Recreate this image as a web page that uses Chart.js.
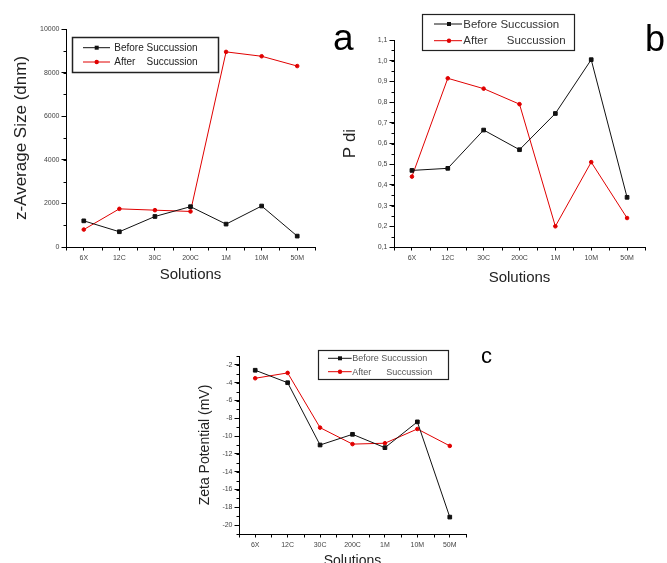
<!DOCTYPE html>
<html>
<head>
<meta charset="utf-8">
<script src="https://cdn.jsdelivr.net/npm/chart.js@4/dist/chart.umd.min.js"></script>
<style>
body{margin:0;background:#fff;width:667px;height:563px;overflow:hidden;position:relative}
.box{position:absolute}
.tag{position:absolute;font-family:"Liberation Sans",Arial,sans-serif;color:#000;line-height:1}
</style>
</head>
<body>
<div class="box" style="left:0;top:0;width:340px;height:290px"><canvas id="ca"></canvas></div>
<div class="box" style="left:340px;top:0;width:327px;height:290px"><canvas id="cb"></canvas></div>
<div class="box" style="left:170px;top:330px;width:330px;height:240px"><canvas id="cc"></canvas></div>
<div class="tag" style="left:333px;top:19px;font-size:37px">a</div>
<div class="tag" style="left:645px;top:21px;font-size:36px">b</div>
<div class="tag" style="left:481px;top:345px;font-size:22px">c</div>
<script>
// data
const solutions = ['6X','12C','30C','200C','1M','10M','50M'];
const sizeBefore = [1200, 700, 1400, 1850, 1050, 1880, 500];
const sizeAfter  = [800, 1750, 1690, 1630, 8950, 8750, 8300];
const pdiBefore  = [0.47, 0.48, 0.665, 0.57, 0.745, 1.005, 0.34];
const pdiAfter   = [0.44, 0.915, 0.865, 0.79, 0.20, 0.51, 0.24];
const zetaBefore = [-2.6, -4.0, -11.0, -9.8, -11.3, -8.4, -19.1];
const zetaAfter  = [-3.5, -2.9, -9.05, -10.9, -10.8, -9.2, -11.1];
const sizeTicks = [0, 2000, 4000, 6000, 8000, 10000];
const pdiTicks  = [0.1, 0.2, 0.3, 0.4, 0.5, 0.6, 0.7, 0.8, 0.9, 1.0, 1.1];
const zetaTicks = [-2, -4, -6, -8, -10, -12, -14, -16, -18, -20];
const namesA = ['Before Succussion', 'After    Succussion'];
const namesB = ['Before Succussion', 'After      Succussion'];
const namesC = ['Before Succussion', 'After      Succussion'];

const FONT = '"Liberation Sans", Arial, sans-serif';
const BLACK = '#111', RED = '#e00000';

// minor ticks + boxed legend, drawn by hand like the Origin figure
const extras = {
  id: 'extras',
  afterDraw(chart, args, o) {
    const {ctx, chartArea: a, scales: {x, y}} = chart;
    ctx.save();
    ctx.strokeStyle = '#000'; ctx.lineWidth = 1;
    ctx.beginPath();
    for (let k = 0; ; k++) {
      const v = y.min + k * o.minor;
      if (v > y.max + 1e-9) break;
      const py = Math.round(y.getPixelForValue(v)) + 0.5;
      ctx.moveTo(a.left - 2.5, py); ctx.lineTo(a.left, py);
    }
    for (let i = 0; i <= solutions.length; i++) {
      const px = Math.round(x.getPixelForValue(i - 0.5)) + 0.5;
      ctx.moveTo(px, a.bottom); ctx.lineTo(px, a.bottom + 3.5);
    }
    ctx.stroke();
    const L = o.legend;
    ctx.lineWidth = L.border; ctx.strokeStyle = '#222';
    ctx.strokeRect(L.x1, L.y1, L.x2 - L.x1, L.y2 - L.y1);
    ctx.font = L.size + 'px ' + FONT;
    ctx.textBaseline = 'middle';
    chart.data.datasets.forEach((ds, i) => {
      const yy = L.rows[i];
      ctx.strokeStyle = ds.borderColor; ctx.fillStyle = ds.borderColor; ctx.lineWidth = 1;
      ctx.beginPath(); ctx.moveTo(L.lx1, yy); ctx.lineTo(L.lx2, yy); ctx.stroke();
      ctx.beginPath();
      if (ds.pointStyle === 'rect') ctx.rect(L.mx - 2, yy - 2, 4, 4);
      else ctx.arc(L.mx, yy, 2.2, 0, Math.PI * 2);
      ctx.fill();
      ctx.fillStyle = L.color;
      ctx.fillText(ds.label, L.tx, yy + 0.5);
    });
    ctx.restore();
  }
};

function makeChart(id, cfg) {
  const series = (label, data, color, style) => ({
    label, data, borderColor: color, backgroundColor: color,
    borderWidth: 1, tension: 0, pointStyle: style,
    pointRadius: style === 'rect' ? 2.6 : 1.8, pointBorderWidth: 1
  });
  return new Chart(document.getElementById(id), {
    type: 'line',
    data: {
      labels: solutions,
      datasets: [
        series(cfg.names[0], cfg.before, BLACK, 'rect'),
        series(cfg.names[1], cfg.after, RED, 'circle')
      ]
    },
    options: {
      responsive: true, maintainAspectRatio: false, animation: false,
      layout: {padding: cfg.pad},
      plugins: {legend: {display: false}, tooltip: {enabled: false}, extras: cfg.extras},
      scales: {
        x: {
          offset: true,
          grid: {drawOnChartArea: false, drawTicks: true, tickLength: 3.5, color: '#000'},
          border: {display: true, color: '#000', width: 1},
          ticks: {font: {family: FONT, size: 7}, color: '#444', padding: 3, maxRotation: 0, autoSkip: false},
          title: {display: true, text: 'Solutions', color: '#222',
                  font: {family: FONT, size: cfg.xt.size}, padding: {top: 0, bottom: cfg.xt.pad}},
          afterFit: s => { s.height = cfg.xh; }
        },
        y: {
          min: cfg.min, max: cfg.max,
          afterBuildTicks: s => { s.ticks = cfg.ticks.map(v => ({value: v})); },
          grid: {drawOnChartArea: false, drawTicks: true, tickLength: 4.5, color: '#000'},
          border: {display: true, color: '#000', width: 1},
          ticks: {font: {family: FONT, size: 7}, color: '#444', padding: 2, callback: cfg.fmt},
          title: {display: true, text: cfg.ytitle, color: '#222',
                  font: {family: FONT, size: cfg.yt.size}, padding: {top: cfg.yt.pad, bottom: 0}},
          afterFit: s => { s.width = cfg.yw; }
        }
      }
    },
    plugins: [extras]
  });
}

makeChart('ca', {
  names: namesA, before: sizeBefore, after: sizeAfter,
  min: 0, max: 10000, ticks: sizeTicks, fmt: v => String(v),
  ytitle: 'z-Average Size (dnm)', yt: {size: 17, pad: 11}, xt: {size: 15, pad: 6},
  pad: {top: 29, right: 25, left: 0, bottom: 0}, yw: 66, xh: 43,
  extras: {minor: 1000, legend: {x1: 72.5, y1: 37.5, x2: 218.5, y2: 72.5, border: 1.5,
    rows: [47.7, 62], lx1: 83, lx2: 110, mx: 96.7, tx: 114.3, size: 10, color: '#222'}}
});

makeChart('cb', {
  names: namesB, before: pdiBefore, after: pdiAfter,
  min: 0.1, max: 1.1, ticks: pdiTicks, fmt: v => v.toFixed(1).replace('.', ','),
  ytitle: 'P di', yt: {size: 17, pad: 0}, xt: {size: 15, pad: 3},
  pad: {top: 40, right: 22, left: 0, bottom: 0}, yw: 54, xh: 43,
  extras: {minor: 0.05, legend: {x1: 82.5, y1: 14.5, x2: 234.5, y2: 50.5, border: 1.2,
    rows: [24, 40.7], lx1: 94, lx2: 122, mx: 109, tx: 123.3, size: 11.5, color: '#333'}}
});

makeChart('cc', {
  names: namesC, before: zetaBefore, after: zetaAfter,
  min: -21, max: -1, ticks: zetaTicks, fmt: v => String(v),
  ytitle: 'Zeta Potential (mV)', yt: {size: 14, pad: 27}, xt: {size: 14, pad: 0},
  pad: {top: 26, right: 34, left: 0, bottom: 0}, yw: 69, xh: 36,
  extras: {minor: 1, legend: {x1: 148.5, y1: 20.5, x2: 278.5, y2: 49.5, border: 1.2,
    rows: [28.3, 41.7], lx1: 158, lx2: 181.7, mx: 170, tx: 182.3, size: 9, color: '#555'}}
});
</script>
</body>
</html>
